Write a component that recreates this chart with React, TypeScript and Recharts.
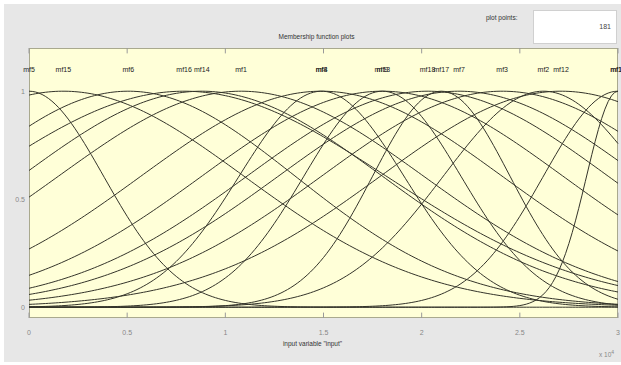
import { LineChart, Line, XAxis, YAxis, ReferenceDot, ReferenceLine } from "recharts"

// membership functions (gaussmf, x in units of 10^4)
const MF_NAMES = ["mf1", "mf2", "mf3", "mf4", "mf5", "mf6", "mf7", "mf8", "mf9", "mf10", "mf11", "mf12", "mf13", "mf14", "mf15", "mf16", "mf17", "mf18"]
const MF_CENTERS = [1.08, 2.62, 2.41, 1.49, 0.0, 0.506, 2.19, 1.49, 1.8, 3.0, 3.0, 2.71, 1.8, 0.88, 0.175, 0.79, 2.1, 2.03]
const MF_SIGMAS = [0.93, 0.51, 0.92, 0.92, 0.38, 0.85, 0.92, 0.42, 0.92, 0.16, 0.38, 0.92, 0.4, 0.92, 0.92, 1.03, 0.35, 0.92]

const X_MIN = 0
const X_MAX = 30000
const PLOT_POINTS = 181
const X_TICKS = [0, 5000, 10000, 15000, 20000, 25000, 30000]
const Y_TICKS = [0, 0.5, 1]

const gaussmf = (x: number, sigma: number, c: number) => Math.exp(-((x - c) ** 2) / (2 * sigma * sigma))

const data = Array.from({ length: PLOT_POINTS }, (_, i) => {
  const x = X_MIN + ((X_MAX - X_MIN) * i) / (PLOT_POINTS - 1)
  const row: Record<string, number> = { x }
  MF_NAMES.forEach((name, k) => {
    row[name] = gaussmf(x, MF_SIGMAS[k] * 10000, MF_CENTERS[k] * 10000)
  })
  return row
})

const font = "'Liberation Sans', Arial, sans-serif"
const lineColor = "#34342a"

export default function App() {
  return (
    <div style={{ position: "fixed", left: 0, top: 0, width: 621, height: 365, background: "#fff", fontFamily: font }}>
      <div style={{ position: "absolute", left: 4, top: 4, width: 617, height: 358, background: "#e7e7e7" }} />
      <div style={{ position: "absolute", left: 29, top: 48, width: 589, height: 270, background: "#ffffd8", boxSizing: "border-box", border: "1px solid #a9a98e" }} />

      <div style={{ position: "absolute", left: 0, width: 621, top: 33, textAlign: "center", fontSize: 6.5, color: "#333", paddingLeft: 6 }}>
        Membership function plots
      </div>
      <div style={{ position: "absolute", left: 486, top: 14, fontSize: 6.5, color: "#333" }}>plot points:</div>
      <div style={{ position: "absolute", left: 533, top: 10, width: 84, height: 34, background: "#fff", boxSizing: "border-box", border: "1px solid #d0d0d0" }}>
        <div style={{ position: "absolute", right: 5, top: 12, fontSize: 7, color: "#444" }}>{PLOT_POINTS}</div>
      </div>
      <div style={{ position: "absolute", left: 0, width: 621, top: 340, textAlign: "center", fontSize: 6.5, color: "#333", paddingLeft: 2 }}>
        input variable "input"
      </div>
      <div style={{ position: "absolute", left: 599, top: 349, fontSize: 6.5, color: "#888" }}>
        x 10<sup style={{ fontSize: 5 }}>4</sup>
      </div>

      <div style={{ position: "absolute", left: 0, top: 0 }}>
        <LineChart width={621} height={365} data={data} margin={{ top: 48, right: 3, bottom: 27, left: 19 }}>
          <XAxis
            dataKey="x"
            type="number"
            domain={[X_MIN, X_MAX]}
            ticks={X_TICKS}
            tickFormatter={(v) => String(v / 10000)}
            tick={{ fontSize: 7, fill: "#888", fontFamily: font }}
            tickLine={false}
            axisLine={false}
            tickMargin={6}
            height={20}
          />
          <YAxis
            type="number"
            domain={[-0.05, 1.2]}
            ticks={Y_TICKS}
            tick={{ fontSize: 7, fill: "#888", fontFamily: font }}
            tickLine={false}
            axisLine={false}
            tickSize={0}
            tickMargin={4}
            width={10}
          />
          {X_TICKS.map((t) => (
            <ReferenceLine key={"b" + t} segment={[{ x: t, y: -0.05 }, { x: t, y: -0.025 }]} stroke="#999" />
          ))}
          {X_TICKS.map((t) => (
            <ReferenceLine key={"t" + t} segment={[{ x: t, y: 1.2 }, { x: t, y: 1.175 }]} stroke="#999" />
          ))}
          {MF_NAMES.map((name) => (
            <Line key={name} dataKey={name} stroke={lineColor} strokeWidth={1} dot={false} type="linear" isAnimationActive={false} />
          ))}
          {MF_NAMES.map((name, k) => (
            <ReferenceDot
              key={"l" + name}
              x={MF_CENTERS[k] * 10000}
              y={1.1}
              r={0}
              fill="none"
              stroke="none"
              label={{ value: name, position: "center", fontSize: 7, fill: "#222", fontFamily: font }}
            />
          ))}
        </LineChart>
      </div>
    </div>
  )
}
